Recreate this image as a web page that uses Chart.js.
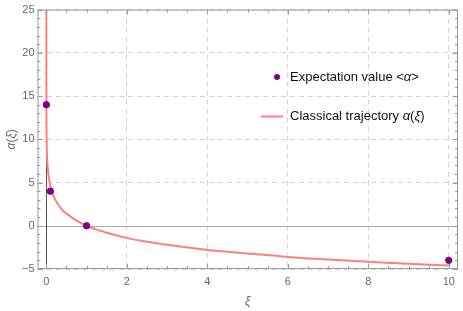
<!DOCTYPE html>
<html lang="en">
<head>
    <meta charset="UTF-8">
    <title>Expectation value vs classical trajectory</title>
    <script src="https://cdn.jsdelivr.net/npm/chart.js@4.4.1/dist/chart.umd.min.js"></script>
    <style>
        html, body { margin: 0; padding: 0; background: #fff; }
        #wrap { width: 463px; height: 311px; position: relative; }
    </style>
</head>
<body>
<div id="wrap"><canvas id="chart"></canvas></div>
<script>
    // expectation values <alpha> at a few xi
    const expXi = [0, 0.1, 1, 10];
    const expAlpha = [14, 4, 0, -4];

    // classical trajectory alpha(xi)
    const trajXi = [0.000004, 0.0001, 0.001, 0.01, 0.03, 0.05, 0.1, 0.15, 0.2, 0.3, 0.4, 0.5, 0.75, 1, 1.25, 1.5, 2, 2.5, 3, 3.5, 4, 4.5, 5, 6, 7, 8, 9, 10];
    const trajAlpha = [25, 18.4, 13.8, 9.2, 7.0, 6.0, 4.6, 3.8, 3.2, 2.4, 1.8, 1.4, 0.6, 0, -0.45, -0.8, -1.4, -1.85, -2.2, -2.5, -2.8, -3.0, -3.2, -3.6, -3.9, -4.15, -4.4, -4.6];

    const xTicks = [0, 2, 4, 6, 8, 10];
    const yTicks = [-5, 0, 5, 10, 15, 20, 25];

    const pts = (xs, ys) => xs.map((x, i) => ({ x: x, y: ys[i] }));

    const tickColor = '#666';
    const fontFam = '"Liberation Sans", Arial, sans-serif';

    // draw text made of pieces with different fonts (for italic greek)
    function drawRich(ctx, parts, x, y, size, align) {
        let total = 0;
        parts.forEach(p => {
            ctx.font = (p[1] ? 'italic ' : '') + size + 'px ' + fontFam;
            total += ctx.measureText(p[0]).width;
        });
        let cx = align === 'center' ? x - total / 2 : x;
        ctx.textAlign = 'left';
        parts.forEach(p => {
            ctx.font = (p[1] ? 'italic ' : '') + size + 'px ' + fontFam;
            ctx.fillText(p[0], cx, y);
            cx += ctx.measureText(p[0]).width;
        });
    }

    const framePlugin = {
        id: 'frame',
        beforeDatasetsDraw(chart) {
            const { ctx, chartArea: a, scales } = chart;
            const xs = scales.x, ys = scales.y;
            ctx.save();
            // zero lines
            ctx.lineWidth = 1;
            ctx.strokeStyle = '#aaa';
            const y0 = Math.round(ys.getPixelForValue(0)) + 0.5;
            ctx.beginPath(); ctx.moveTo(a.left, y0); ctx.lineTo(a.right, y0); ctx.stroke();
            ctx.strokeStyle = '#555';
            const x0 = Math.round(xs.getPixelForValue(0)) + 0.5;
            ctx.beginPath(); ctx.moveTo(x0, a.top); ctx.lineTo(x0, a.bottom); ctx.stroke();
            ctx.restore();
        },
        afterDraw(chart) {
            const { ctx, chartArea: a, scales } = chart;
            const xs = scales.x, ys = scales.y;
            ctx.save();
            ctx.strokeStyle = '#999';
            ctx.lineWidth = 1;
            ctx.strokeRect(a.left + 0.5, a.top + 0.5, a.right - a.left - 1, a.bottom - a.top - 1);
            // frame ticks, inward on all sides
            ctx.beginPath();
            for (let v = 0; v <= 10.001; v += 0.5) {
                const px = Math.round(xs.getPixelForValue(v)) + 0.5;
                const len = (Math.abs(v % 2) < 0.001) ? 5 : 3;
                ctx.moveTo(px, a.bottom); ctx.lineTo(px, a.bottom - len);
                ctx.moveTo(px, a.top); ctx.lineTo(px, a.top + len);
            }
            for (let v = -5; v <= 25; v += 1) {
                const py = Math.round(ys.getPixelForValue(v)) + 0.5;
                const len = (v % 5 === 0) ? 5 : 3;
                ctx.moveTo(a.left, py); ctx.lineTo(a.left + len, py);
                ctx.moveTo(a.right, py); ctx.lineTo(a.right - len, py);
            }
            ctx.stroke();

            // legend inside the plot
            ctx.fillStyle = '#800080';
            ctx.beginPath(); ctx.arc(277, 77, 3, 0, Math.PI * 2); ctx.fill();
            ctx.strokeStyle = '#ff7f7f';
            ctx.lineWidth = 2;
            ctx.beginPath(); ctx.moveTo(261, 116.5); ctx.lineTo(283, 116.5); ctx.stroke();
            ctx.fillStyle = '#111';
            ctx.textBaseline = 'middle';
            drawRich(ctx, [['Expectation value <', false], ['α', true], ['>', false]], 290, 77, 13, 'left');
            drawRich(ctx, [['Classical trajectory ', false], ['α', true], ['(', false], ['ξ', true], [')', false]], 290, 116, 13, 'left');

            // axis titles
            ctx.fillStyle = tickColor;
            drawRich(ctx, [['ξ', true]], (a.left + a.right) / 2, 302, 12, 'center');
            ctx.translate(12, (a.top + a.bottom) / 2);
            ctx.rotate(-Math.PI / 2);
            drawRich(ctx, [['α', true], ['(', false], ['ξ', true], [')', false]], 0, 0, 12, 'center');
            ctx.restore();
        }
    };

    const gridColor = (ctx) => {
        const v = ctx.tick && ctx.tick.value;
        if (v === 0) return 'transparent';
        return '#d2d2d2';
    };

    new Chart(document.getElementById('chart'), {
        type: 'scatter',
        data: {
            datasets: [
                {
                    label: 'Expectation value <α>',
                    data: pts(expXi, expAlpha),
                    backgroundColor: '#800080',
                    borderColor: '#800080',
                    pointRadius: 3.2,
                    showLine: false,
                    order: 0
                },
                {
                    label: 'Classical trajectory α(ξ)',
                    data: pts(trajXi, trajAlpha),
                    borderColor: '#ff7f7f',
                    borderWidth: 2,
                    pointRadius: 0,
                    showLine: true,
                    cubicInterpolationMode: 'monotone',
                    order: 1
                }
            ]
        },
        options: {
            responsive: true,
            maintainAspectRatio: false,
            animation: false,
            layout: { padding: { top: 7, right: 0.5, left: 0, bottom: 0 } },
            plugins: { legend: { display: false }, tooltip: { enabled: false } },
            scales: {
                x: {
                    type: 'linear',
                    min: -0.22,
                    max: 10.23,
                    afterBuildTicks: s => { s.ticks = xTicks.map(v => ({ value: v })); },
                    afterFit: s => { s.height = 42; },
                    grid: { color: gridColor, drawTicks: false, lineWidth: 1 },
                    border: { display: false, dash: [5, 4] },
                    ticks: {
                        color: tickColor,
                        padding: 6,
                        maxRotation: 0,
                        font: { family: fontFam, size: 11 }
                    }
                },
                y: {
                    type: 'linear',
                    min: -5,
                    max: 25,
                    afterBuildTicks: s => { s.ticks = yTicks.map(v => ({ value: v })); },
                    afterFit: s => { s.width = 37.5; },
                    grid: { color: gridColor, drawTicks: false, lineWidth: 1 },
                    border: { display: false, dash: [5, 4] },
                    ticks: {
                        color: tickColor,
                        padding: 3,
                        font: { family: fontFam, size: 11 },
                        callback: v => (v < 0 ? '\u2212' + Math.abs(v) : String(v))
                    }
                }
            }
        },
        plugins: [framePlugin]
    });
</script>
</body>
</html>
